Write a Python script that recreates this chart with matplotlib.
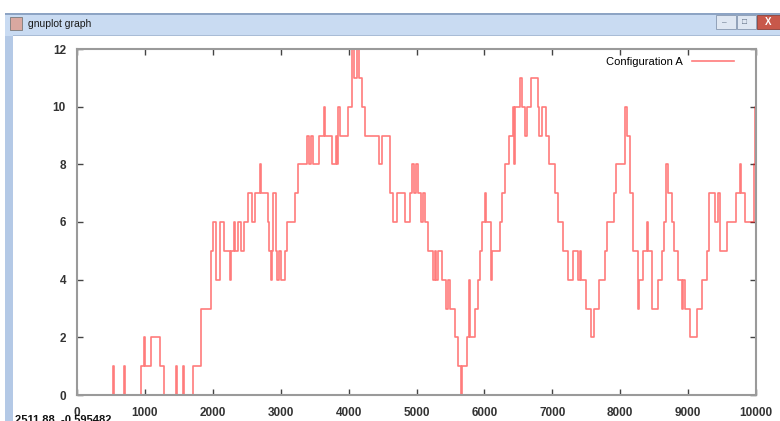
import numpy as np
import matplotlib
matplotlib.use("Agg")
import matplotlib.pyplot as plt
from matplotlib.patches import Rectangle

plt.rcParams['font.family'] = ['Liberation Sans', 'DejaVu Sans']

###############################################################################
#                     Data                        #
###############################################################################
# step change points (x where the level starts) and the level from there on
step_x = [0, 532, 547, 694, 709, 941, 980, 1000, 1088, 1216, 1285, 1462, 1477,
          1556, 1580, 1709, 1827, 1975, 2000, 2043, 2112, 2171, 2250, 2265,
          2319, 2334, 2368, 2420, 2460, 2521, 2580, 2619, 2693, 2708, 2811,
          2830, 2851, 2866, 2885, 2925, 2949, 2975, 3000, 3057, 3097, 3210,
          3254, 3382, 3412, 3440, 3470, 3565, 3639, 3654, 3761, 3810, 3830,
          3840, 3870, 3984, 4047, 4077, 4121, 4151, 4195, 4239, 4451, 4485,
          4613, 4660, 4707, 4830, 4908, 4930, 4960, 4990, 5017, 5066, 5100,
          5120, 5165, 5239, 5270, 5290, 5313, 5371, 5436, 5460, 5490, 5573,
          5608, 5657, 5672, 5741, 5771, 5786, 5864, 5904, 5933, 5968, 6002,
          6017, 6100, 6115, 6223, 6263, 6297, 6356, 6420, 6435, 6450, 6519,
          6558, 6593, 6632, 6691, 6790, 6800, 6849, 6913, 6952, 7036, 7077,
          7159, 7233, 7307, 7381, 7410, 7430, 7489, 7568, 7612, 7685, 7774,
          7799, 7907, 7936, 8069, 8105, 8144, 8193, 8257, 8272, 8341, 8400,
          8415, 8464, 8562, 8612, 8651, 8671, 8700, 8760, 8799, 8848, 8907,
          8920, 8950, 9030, 9128, 9202, 9276, 9301, 9399, 9438, 9473, 9572,
          9705, 9759, 9783, 9838, 9966, 9990, 10000]
step_y = [0, 1, 0, 1, 0, 1, 2, 1, 2, 1, 0, 1, 0,
          1, 0, 1, 3, 5, 6, 4, 6, 5, 4, 5,
          6, 5, 6, 5, 6, 7, 6, 7, 8, 7, 6,
          5, 4, 5, 7, 5, 4, 5, 4, 5, 6, 7,
          8, 9, 8, 9, 8, 9, 10, 9, 8, 9, 8,
          10, 9, 10, 12, 11, 12, 11, 10, 9, 8, 9,
          7, 6, 7, 6, 7, 8, 7, 8, 7, 6, 7,
          6, 5, 4, 5, 4, 5, 4, 3, 4, 3, 2,
          1, 0, 1, 2, 4, 2, 3, 4, 5, 6, 7,
          6, 4, 5, 6, 7, 8, 9, 10, 8, 10, 11,
          10, 9, 10, 11, 10, 9, 10, 9, 8, 7, 6,
          5, 4, 5, 4, 5, 4, 3, 2, 3, 4, 5,
          6, 7, 8, 10, 9, 7, 5, 3, 4, 5, 6,
          5, 3, 4, 5, 6, 8, 7, 6, 5, 4, 3,
          4, 3, 2, 3, 4, 5, 7, 6, 7, 5, 6,
          7, 8, 7, 6, 8, 10, 10]

x_ticks = [0, 1000, 2000, 3000, 4000, 5000, 6000, 7000, 8000, 9000, 10000]
y_ticks = [0, 2, 4, 6, 8, 10, 12]
series_label = "Configuration A"
window_title = "gnuplot graph"
status_text = "2511.88, -0.595482"

###############################################################################
#                               Window chrome                                 #
###############################################################################
W, H = 780, 421
fig = plt.figure(figsize=(W / 100, H / 100), dpi=100)
fig.patch.set_facecolor("white")

def px_rect(x, y, w, h, **kw):
    # rectangle in screen pixels (y from the top)
    fig.patches.append(Rectangle((x / W, 1 - (y + h) / H), w / W, h / H,
                                 transform=fig.transFigure, **kw))

# left window border and title bar
px_rect(5, 13, 8, H - 13, facecolor="#b4c9e6", edgecolor="none")
px_rect(5, 13, W - 5, 23, facecolor="#c9dbf2", edgecolor="none")
px_rect(5, 13, W - 5, 1.5, facecolor="#8da4c4", edgecolor="none")
px_rect(13, 35, W - 13, 1, facecolor="#a9bcd6", edgecolor="none")
# icon
px_rect(10, 17, 12, 13, facecolor="#d9a8a0", edgecolor="#7a7a7a", linewidth=0.6)
fig.text(28 / W, 1 - 24 / H, window_title, fontsize=7.5, color="#1a1a1a",
         va="center", ha="left")
# buttons
px_rect(716, 15, 20, 14, facecolor="#dfe7f2", edgecolor="#8798b0", linewidth=0.6)
px_rect(737, 15, 19, 14, facecolor="#dfe7f2", edgecolor="#8798b0", linewidth=0.6)
px_rect(757, 15, 25, 14, facecolor="#c8584a", edgecolor="#8a4038", linewidth=0.6)
fig.text(722 / W, 1 - 23 / H, "\u2013", fontsize=6, color="#5a6a80", va="center")
fig.text(742 / W, 1 - 22 / H, "\u25a1", fontsize=6, color="#5a6a80", va="center")
fig.text(765 / W, 1 - 22 / H, "X", fontsize=7, color="white", va="center",
         fontweight="bold")

# status line at the bottom (cut off by the window edge, as in the screenshot)
fig.text(15 / W, 1 - 420 / H, status_text, fontsize=8, color="#111111",
         va="center", ha="left", fontweight="bold")

###############################################################################
#                                  The plot                                   #
###############################################################################
ax = fig.add_axes([77 / W, 1 - 395 / H, (756 - 77) / W, (395 - 49) / H])
ax.set_facecolor("white")

ax.step(step_x, step_y, where="post", color="#ff1010", alpha=0.55,
        linewidth=1.2, label=series_label)

ax.set_xlim(0, 10000)
ax.set_ylim(0, 12)
ax.set_xticks(x_ticks)
ax.set_yticks(y_ticks)
ax.tick_params(direction="in", length=4, width=1, color="#444444",
               top=True, right=True, labelsize=8.5, labelcolor="#333333")
ax.tick_params(axis="x", pad=9)
ax.tick_params(axis="y", pad=8)
for lab in ax.get_xticklabels() + ax.get_yticklabels():
    lab.set_fontweight("bold")
for sp in ax.spines.values():
    sp.set_color("#9a9a9a")
    sp.set_linewidth(1.5)

leg = ax.legend(loc="upper right", bbox_to_anchor=(0.982, 1.005), frameon=False,
                markerfirst=False, handlelength=3.8, fontsize=8,
                handletextpad=0.8)

fig.savefig("out.png", dpi=100, facecolor="white")
